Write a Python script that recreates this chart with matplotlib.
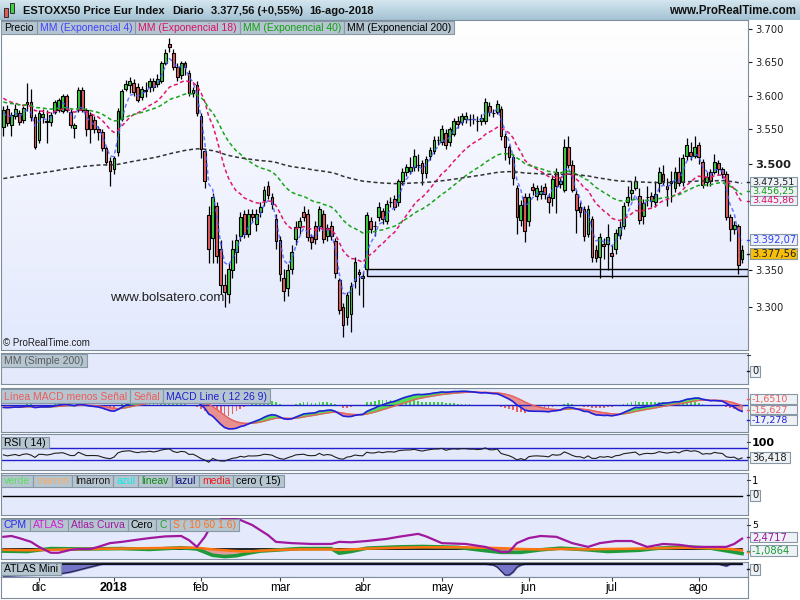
import numpy as np
import pandas as pd
import matplotlib
matplotlib.use("Agg")
import matplotlib.pyplot as plt
from matplotlib.patches import Rectangle
from matplotlib.lines import Line2D
from matplotlib.colors import LinearSegmentedColormap
from matplotlib.ticker import NullLocator

plt.rcParams['font.family'] = ['Liberation Sans', 'DejaVu Sans']

# ---------------- data ----------------
opens = [3554, 3580, 3557, 3570, 3574, 3564, 3590, 3590, 3569, 3535,
         3568, 3562, 3561, 3576, 3579, 3577, 3599, 3576, 3552, 3579,
         3608, 3579, 3571, 3564, 3551, 3547, 3523, 3504, 3492, 3517,
         3566, 3610, 3616, 3619, 3612, 3598, 3607, 3612, 3622, 3617,
         3622, 3649, 3677, 3664, 3642, 3630, 3648, 3634, 3604, 3615,
         3570, 3518, 3427, 3395, 3440, 3380, 3330, 3318, 3350, 3375,
         3397, 3428, 3401, 3428, 3414, 3432, 3449, 3469, 3452, 3421,
         3392, 3340, 3325, 3352, 3393, 3410, 3432, 3429, 3396, 3411,
         3411, 3429, 3397, 3411, 3390, 3336, 3300, 3286, 3290, 3335,
         3348, 3342, 3352, 3418, 3411, 3425, 3433, 3418, 3446, 3450,
         3446, 3475, 3488, 3490, 3495, 3498, 3501, 3487, 3511, 3519,
         3535, 3532, 3545, 3531, 3544, 3562, 3561, 3566, 3565, 3566,
         3562, 3562, 3563, 3584, 3574, 3576, 3580, 3541, 3524, 3510,
         3466, 3420, 3452, 3418, 3467, 3454, 3457, 3467, 3452, 3451,
         3489, 3471, 3463, 3524, 3499, 3457, 3438, 3435, 3401, 3421,
         3378, 3369, 3387, 3387, 3374, 3380, 3399, 3411, 3446, 3459,
         3466, 3454, 3426, 3453, 3454, 3446, 3472, 3485, 3469, 3472,
         3466, 3488, 3474, 3512, 3517, 3512, 3527, 3503, 3474, 3488,
         3489, 3501, 3492, 3485, 3424, 3408, 3411, 3365]
closes = [3579, 3560, 3571, 3580, 3561, 3581, 3587, 3568, 3525, 3574,
          3572, 3561, 3571, 3590, 3593, 3599, 3579, 3556, 3556, 3608,
          3579, 3550, 3550, 3551, 3547, 3523, 3503, 3490, 3509, 3577,
          3606, 3617, 3622, 3605, 3594, 3610, 3608, 3622, 3612, 3625,
          3649, 3664, 3673, 3642, 3628, 3648, 3642, 3604, 3608, 3574,
          3521, 3475, 3380, 3452, 3370, 3330, 3320, 3352, 3380, 3392,
          3425, 3401, 3429, 3425, 3428, 3438, 3463, 3456, 3442, 3390,
          3345, 3322, 3350, 3375, 3410, 3418, 3425, 3396, 3389, 3394,
          3436, 3394, 3409, 3397, 3346, 3296, 3276, 3316, 3328, 3361,
          3345, 3340, 3427, 3408, 3411, 3439, 3421, 3443, 3446, 3439,
          3475, 3488, 3495, 3496, 3512, 3498, 3487, 3507, 3520, 3535,
          3535, 3551, 3528, 3550, 3563, 3558, 3570, 3570, 3565, 3566,
          3562, 3567, 3591, 3575, 3574, 3588, 3541, 3525, 3510, 3480,
          3425, 3441, 3404, 3452, 3463, 3466, 3461, 3457, 3446, 3479,
          3468, 3476, 3524, 3499, 3463, 3434, 3432, 3398, 3435, 3369,
          3367, 3396, 3384, 3396, 3370, 3402, 3410, 3440, 3452, 3463,
          3475, 3420, 3444, 3453, 3447, 3457, 3488, 3475, 3464, 3475,
          3488, 3472, 3509, 3527, 3512, 3524, 3510, 3470, 3481, 3475,
          3503, 3492, 3486, 3424, 3408, 3413, 3357, 3377.56]
highs = [3584, 3586, 3576, 3588, 3578, 3585, 3619, 3610, 3572, 3578,
         3580, 3579, 3575, 3594, 3596, 3602, 3602, 3580, 3560, 3612,
         3612, 3582, 3575, 3570, 3555, 3550, 3526, 3510, 3512, 3581,
         3610, 3623, 3628, 3625, 3618, 3614, 3620, 3626, 3626, 3632,
         3652, 3670, 3686, 3670, 3648, 3652, 3652, 3638, 3612, 3622,
         3574, 3522, 3440, 3458, 3445, 3392, 3345, 3360, 3392, 3400,
         3432, 3434, 3435, 3436, 3436, 3446, 3468, 3475, 3458, 3428,
         3398, 3352, 3358, 3385, 3418, 3425, 3440, 3435, 3400, 3418,
         3440, 3434, 3415, 3418, 3395, 3340, 3305, 3320, 3334, 3368,
         3352, 3348, 3432, 3425, 3418, 3445, 3437, 3448, 3452, 3456,
         3478, 3494, 3500, 3510, 3522, 3515, 3506, 3512, 3525, 3540,
         3540, 3556, 3550, 3554, 3567, 3570, 3574, 3575, 3572, 3572,
         3570, 3572, 3597, 3590, 3580, 3594, 3585, 3545, 3528, 3515,
         3470, 3448, 3458, 3458, 3472, 3470, 3470, 3472, 3458, 3484,
         3494, 3481, 3536, 3540, 3506, 3462, 3445, 3440, 3441, 3426,
         3385, 3402, 3395, 3415, 3385, 3408, 3418, 3446, 3468, 3475,
         3482, 3466, 3450, 3468, 3460, 3475, 3496, 3498, 3480, 3490,
         3495, 3510, 3514, 3538, 3532, 3540, 3532, 3507, 3488, 3492,
         3515, 3505, 3496, 3490, 3428, 3418, 3415, 3385]
lows = [3541, 3555, 3540, 3566, 3556, 3560, 3577, 3563, 3521, 3530,
        3560, 3530, 3555, 3572, 3575, 3574, 3575, 3552, 3538, 3575,
        3575, 3540, 3530, 3545, 3535, 3519, 3498, 3468, 3486, 3512,
        3562, 3606, 3604, 3600, 3590, 3594, 3598, 3605, 3606, 3612,
        3618, 3645, 3665, 3638, 3622, 3625, 3630, 3600, 3598, 3570,
        3508, 3465, 3360, 3360, 3360, 3318, 3300, 3305, 3340, 3360,
        3390, 3395, 3396, 3418, 3405, 3424, 3440, 3450, 3436, 3380,
        3335, 3308, 3315, 3345, 3385, 3400, 3418, 3390, 3380, 3386,
        3405, 3388, 3390, 3392, 3340, 3290, 3259, 3275, 3266, 3325,
        3316, 3300, 3348, 3402, 3398, 3418, 3414, 3414, 3438, 3434,
        3440, 3470, 3482, 3486, 3490, 3490, 3470, 3480, 3505, 3515,
        3528, 3528, 3522, 3526, 3540, 3552, 3556, 3560, 3555, 3558,
        3548, 3556, 3558, 3570, 3568, 3572, 3535, 3505, 3500, 3470,
        3400, 3412, 3389, 3412, 3455, 3448, 3450, 3450, 3430, 3440,
        3430, 3466, 3460, 3494, 3460, 3402, 3425, 3390, 3396, 3362,
        3362, 3339, 3365, 3350, 3339, 3372, 3394, 3408, 3440, 3448,
        3462, 3414, 3415, 3440, 3438, 3438, 3460, 3470, 3440, 3445,
        3460, 3468, 3468, 3505, 3506, 3508, 3500, 3465, 3468, 3468,
        3485, 3486, 3480, 3420, 3390, 3400, 3345, 3360]

holidays = ['2017-12-25', '2017-12-26', '2018-01-01', '2018-03-30', '2018-04-02', '2018-05-01']
month_labels = ['dic', '2018', 'feb', 'mar', 'abr', 'may', 'jun', 'jul', 'ago']
price_ticks = [3300, 3350, 3500, 3550, 3600, 3650, 3700]
price_tick_labels = ['3.300', '3.350', '3.500', '3.550', '3.600', '3.650', '3.700']

# starting values of the averages (they come from history before the window)
ema_spans = [4, 18, 40, 200]
ema_seeds = [3572, 3598, 3591, 3478]
macd_seeds = [3572, 3580, -6]
rsi_seeds = [9.0, 10.0]
support_band = [3342, 3352]
support_start = 92

# ATLAS / C / S indicator lines (sampled)
atlas_idx = [0, 2, 4, 7, 9, 12, 14, 17, 19, 22, 24, 27, 30, 33, 37, 41, 45, 47, 49, 51,
             53, 56, 58, 60, 63, 67, 69, 73, 78, 83, 85, 88, 92, 97, 100, 105, 107, 111, 117, 122,
             126, 128, 130, 133, 136, 140, 144, 148, 151, 155, 159, 163, 167, 171, 175, 180, 183, 185, 187]
atlas_vals = [2.9, 3.1, 2.6, 1.7, 0.5, -0.9, -0.9, -0.2, 0.0, 0.0, 0.5, 1.4, 1.7, 2.1, 2.6, 3.0, 3.1, 2.1, 0.5, 2.9,
              6.2, 7.4, 7.4, 6.9, 5.7, 3.3, 1.7, 1.4, 1.2, 1.2, 1.7, 1.6, 1.9, 2.4, 2.9, 3.6, 3.0, 1.4, 1.2, 0.5,
              -0.7, -0.7, 1.4, 2.6, 3.1, 2.9, 1.4, 0.5, 1.4, 1.9, 1.9, 0.5, 1.2, 1.0, 0.5, 0.5, 0.5, 1.2, 2.47]
cs_idx = [0, 6, 12, 20, 30, 37, 45, 49, 53, 56, 59, 62, 65, 70, 75, 83, 85, 88, 92, 100,
          106, 115, 122, 126, 131, 136, 141, 148, 153, 161, 166, 173, 179, 184, 187]
c_vals = [-0.5, -0.6, 0.1, 0.0, 0.1, -0.1, 0.3, 0.0, -1.5, -1.8, -1.6, -1.0, -0.5, -0.2, 0.1, 0.1, -1.0, -0.6, 0.2, 0.5,
          0.6, 0.4, -0.4, -0.8, -0.8, -0.2, 0.2, -0.2, -0.6, -0.3, 0.2, 0.5, 0.2, -0.6, -1.09]
s_vals = [-0.2, -0.3, -0.2, 0.0, 0.1, 0.2, 0.3, 0.3, -0.1, -0.3, -0.5, -0.6, -0.4, -0.2, -0.1, -0.1, -0.2, -0.1, 0.1, 0.3,
          0.4, 0.4, 0.3, 0.2, 0.0, -0.1, 0.0, -0.1, 0.0, 0.1, 0.2, 0.3, 0.2, 0.0, -0.3]
mini_idx = [0, 14, 17, 19, 21, 23, 25, 122, 124, 125, 126, 127, 128, 129, 130, 131, 132, 181, 182, 183, 184, 187]
mini_vals = [-12, -10, -8, -6, -4, -2, 0, 0, -1, -3, -7, -11, -11, -8, -3, -1, 0, 0, -1, -2, 0, 0]

W, H = 800, 600
XMIN, XMAX = -0.6, 188.5
PANEL_BG = '#e4eafb'
EDGE = '#7d8d9b'
NUMFONT = ['DejaVu Sans']


def ema(values, span, seed):
    a = 2.0 / (span + 1)
    out, prev = [], seed
    for v in values:
        prev = prev + a * (v - prev)
        out.append(prev)
    return np.array(out)


def rsi(values, period, seed_gain, seed_loss):
    g, l = seed_gain, seed_loss
    out, prev = [], values[0]
    for v in values:
        d = v - prev
        g = (g * (period - 1) + max(d, 0)) / period
        l = (l * (period - 1) + max(-d, 0)) / period
        out.append(100 - 100 / (1 + g / l))
        prev = v
    return np.array(out)


fig = plt.figure(figsize=(8, 6), dpi=100, facecolor='white')


def px_axes(x0, y0, x1, y1):
    return fig.add_axes([x0 / W, 1 - y1 / H, (x1 - x0) / W, (y1 - y0) / H])


def fig_rect(x0, y0, x1, y1, **kw):
    fig.add_artist(Rectangle((x0 / W, 1 - y1 / H), (x1 - x0) / W, (y1 - y0) / H,
                             transform=fig.transFigure, **kw))


def fig_text(x, y, s, **kw):
    return fig.text(x / W, 1 - y / H, s, **kw)


def panel(y0, y1):
    a = px_axes(1, y0, 748, y1)
    a.set_facecolor(PANEL_BG)
    a.set_xlim(XMIN, XMAX)
    a.set_xticks([])
    a.set_yticks([])
    for s in a.spines.values():
        s.set_color(EDGE)
    return a


def legend_row(y0, y1, items, x0=1):
    renderer = fig.canvas.get_renderer()
    x = x0
    for label, color in items:
        t = fig_text(x + 3, (y0 + y1) / 2 + 0.5, label, color=color, fontsize=7.5,
                     va='center', ha='left', zorder=31)
        w = t.get_window_extent(renderer).width + 6
        fig_rect(x, y0, x + w, y1, fc='#b5c6d1', ec='#8797a5', lw=0.8, zorder=30)
        x += w


def value_box(y, text, color, x1=797, fc='#eef2f6', h=11, tick=True, size=7.2):
    renderer = fig.canvas.get_renderer()
    t = fig_text(752, y + 0.5, text, color=color, fontsize=size, va='center', ha='left',
                 family=NUMFONT, zorder=41)
    if x1 is None:
        x1 = 752 + t.get_window_extent(renderer).width + 3
    fig_rect(750, y - h / 2, x1, y + h / 2, fc=fc, ec='#8797a5', lw=0.8, zorder=40)
    if tick:
        fig.add_artist(Line2D([747 / W, 750 / W], [1 - y / H] * 2, color=color, lw=1,
                              transform=fig.transFigure))


def plain_label(y, text, color='black', size=7.2, weight='normal'):
    fig_text(752, y + 0.5, text, color=color, fontsize=size, va='center', ha='left',
             family=NUMFONT, weight=weight)
    fig.add_artist(Line2D([747 / W, 750 / W], [1 - y / H] * 2, color='#404040', lw=0.8,
                          transform=fig.transFigure))


o = np.array(opens, dtype=float)
c = np.array(closes, dtype=float)
hi = np.array(highs, dtype=float)
lo = np.array(lows, dtype=float)
n = len(c)
x = np.arange(n)
dates = pd.bdate_range('2017-11-20', '2018-08-16', freq='C', holidays=holidays)
month_pos = [i for i in range(1, n) if dates[i].month != dates[i - 1].month]

# ---------------- header ----------------
grad = np.linspace(0, 1, 64).reshape(-1, 1)
hd = px_axes(0, 0, 800, 20)
hd.imshow(grad, aspect='auto', extent=[0, 1, 0, 1],
          cmap=LinearSegmentedColormap.from_list('h', ['#d4e6ef', '#a4c2d3']))
hd.set_xlim(0, 1)
hd.set_ylim(0, 1)
hd.axis('off')
fig_rect(4, 8, 8, 17, fc='#e05a5a', ec='#303030', lw=0.7, zorder=5)
fig_rect(10, 3, 14, 13, fc='#3fcf3f', ec='#303030', lw=0.7, zorder=5)
for seg_x, seg in [(23, 'ESTOXX50 Price Eur Index'), (172, 'Diario'),
                   (211, '3.377,56 (+0,55%)'), (309, '16-ago-2018')]:
    fig_text(seg_x, 11, seg, fontsize=8, weight='bold', va='center', ha='left', color='#101010')
fig_text(796, 11, 'www.ProRealTime.com', fontsize=8.3, weight='bold', va='center', ha='right',
         color='#101010')

# ---------------- main price panel ----------------
bg = px_axes(1, 20, 748, 350)
bg.imshow(grad, aspect='auto', extent=[0, 1, 0, 1],
          cmap=LinearSegmentedColormap.from_list('b', ['#ffffff', '#e3e9fd']))
bg.set_xlim(0, 1)
bg.set_ylim(0, 1)
bg.axis('off')

ax = px_axes(1, 20, 748, 350)
ax.set_facecolor('none')
ax.set_yscale('log')
ax.set_xlim(XMIN, XMAX)
ax.set_ylim(3241.8, 3713.7)
ax.set_xticks([])
for s in ax.spines.values():
    s.set_color(EDGE)
ax.yaxis.tick_right()
ax.set_yticks(price_ticks)
ax.set_yticklabels(price_tick_labels)
ax.yaxis.set_minor_locator(NullLocator())
ax.tick_params(axis='y', length=3, width=0.8, pad=2, labelsize=7.2, colors='#202020')
for lab in ax.get_yticklabels():
    lab.set_family(NUMFONT)
    if lab.get_text() == '3.500':
        lab.set_fontweight('bold')
        lab.set_fontsize(8.2)

ax.add_patch(Rectangle((support_start, support_band[0]), XMAX - support_start,
                       support_band[1] - support_band[0], fc='#dae3ff', ec='black', lw=1, zorder=2))

body_col = np.where(c >= o, '#3fcf3f', '#e25f5f')
ax.vlines(x, lo, hi, color='black', lw=0.9, zorder=3)
ax.bar(x, np.abs(c - o), bottom=np.minimum(o, c), width=0.7, color=body_col,
       edgecolor='black', linewidth=0.8, zorder=4)

ema_styles = [('#4a5cff', 0.8), ('#e0186e', 1.0), ('#1aa51a', 1.0), ('#333333', 1.0)]
for span, seed, (col, alp) in zip(ema_spans, ema_seeds, ema_styles):
    ax.plot(x, ema(c, span, seed), color=col, alpha=alp, lw=1.1, ls=(0, (2.6, 1.8)), zorder=5)

fig_text(110, 298, 'www.bolsatero.com', fontsize=9.5, color='#202020', va='center', ha='left')
fig_text(3, 343, '\u00a9 ProRealTime.com', fontsize=7, color='#202020', va='center', ha='left')
legend_row(21, 34, [('Precio', 'black'), ('MM (Exponencial 4)', '#4040ff'),
                    ('MM (Exponencial 18)', '#d8106a'), ('MM (Exponencial 40)', '#10a010'),
                    ('MM (Exponencial 200)', 'black')])

# stacked last-value boxes (they overlap slightly, as in the original)
value_box(191, '3.456,25', '#10a010', h=9.5, size=6.8)
value_box(181.5, '3.473,51', '#202020', h=9.5, size=6.8)
value_box(200.5, '3.445,86', '#d8106a', h=9.5, size=6.8)
value_box(239.5, '3.392,07', '#3040ff')
value_box(253.5, '3.377,56', '#202020', fc='#f7bf0a')

# ---------------- MM (Simple 200) panel ----------------
mm = panel(353, 384)
legend_row(354, 367, [('MM (Simple 200)', '#5a5a5a')])
plain_label(355, '')
value_box(371, '0', '#202020', x1=760)

# ---------------- MACD panel ----------------
mp = panel(388, 432)
e12 = ema(c, 12, macd_seeds[0])
e26 = ema(c, 26, macd_seeds[1])
macd = e12 - e26
signal = ema(macd, 9, macd_seeds[2])
hist = macd - signal
mp.set_ylim(-75, 47)
mp.bar(x, hist, width=0.45, color=np.where(hist >= 0, '#3fd03f', '#e86060'), zorder=2)
mp.fill_between(x, macd, signal, where=macd >= signal, interpolate=True, color='#56dd56', zorder=3)
mp.fill_between(x, macd, signal, where=macd < signal, interpolate=True, color='#e89090', zorder=3)
mp.axhline(0, color='#2020c8', lw=1, zorder=4)
mp.plot(x, signal, color='#e86060', lw=1, zorder=5)
mp.plot(x, macd, color='#2020e0', lw=1.2, zorder=6)
legend_row(389, 403, [('L\u00ednea MACD menos Se\u00f1al', '#ee5c5c'), ('Se\u00f1al', '#ee5c5c'),
                      ('MACD Line ( 12 26 9)', '#2020d0')])
value_box(409.5, '-15,627', '#e86060', h=9.5, size=6.8)
value_box(399, '-1,6510', '#e86060', h=9.5, size=6.8)
value_box(420, '-17,278', '#2020e0', h=9.5, size=6.8)

# ---------------- RSI panel ----------------
rp = panel(434, 470)
rp.set_ylim(-3.3, 116.7)
rp.axhline(70, color='#2020d0', lw=1)
rp.axhline(30, color='#2020d0', lw=1)
rp.plot(x, rsi(c, 14, rsi_seeds[0], rsi_seeds[1]), color='#202020', lw=0.8)
legend_row(437, 448, [('RSI ( 14)', 'black')])
plain_label(442, '100', size=8, weight='bold')
value_box(457, '36,418', '#202020', x1=None)

# ---------------- verde / marron panel ----------------
vp = panel(473, 515)
vp.set_ylim(-1.19, 1.44)
vp.plot(x, np.zeros(n), color='black', lw=1)
legend_row(475, 487, [('verde', '#58e058'), ('marron', '#f7ad6a'), ('lmarron', '#201818'),
                      ('azul', '#10eaea'), ('lineav', '#128a12'), ('lazul', '#101080'),
                      ('media', '#f01818'), ('cero ( 15)', 'black')])
plain_label(480, '1')
value_box(495, '0', '#202020', x1=760)

# ---------------- CPM / ATLAS panel ----------------
cp = panel(518, 559)
cp.set_ylim(-2.38, 7.38)
cp.plot(x, np.zeros(n), color='black', lw=1.2, zorder=2)
cp.fill_between(cs_idx, c_vals, s_vals, where=np.array(c_vals) < np.array(s_vals),
                interpolate=True, color='#e08a8a', alpha=0.8, zorder=3)
cp.plot(cs_idx, c_vals, color='#1f9a3a', lw=2.6, zorder=4)
cp.plot(cs_idx, s_vals, color='#ff7410', lw=1.8, zorder=5)
cp.plot(atlas_idx, atlas_vals, color='#a0189e', lw=1.6, zorder=6)
legend_row(519, 531, [('CPM', '#2828f0'), ('ATLAS', '#d020d0'), ('Atlas Curva', '#a01aa0'),
                      ('Cero', 'black'), ('C', '#20a030'), ('S ( 10 60 1.6)', '#ff7020')])
plain_label(524.5, '5', size=6.8)
value_box(537, '2,4717', '#a0189e', h=10)
value_box(550.5, '-1,0864', '#1f9a3a')
fig.add_artist(Line2D([747 / W, 750 / W], [1 - 552 / H] * 2, color='#ff7410', lw=1,
                      transform=fig.transFigure))

# ---------------- ATLAS Mini panel ----------------
ap = panel(562, 577)
ap.set_ylim(-13, 2)
ap.fill_between(mini_idx, mini_vals, 0, color='#7474c8', zorder=2)
ap.plot(mini_idx, mini_vals, color='#202040', lw=0.8, zorder=3)
ap.plot(x, np.zeros(n), color='black', lw=1.1, zorder=4)
legend_row(563, 575, [('ATLAS Mini', 'black')])
value_box(569, '0', '#202020', x1=760)

# ---------------- date strip ----------------
dp = px_axes(1, 577, 748, 598)
dp.set_facecolor('white')
dp.set_xlim(XMIN, XMAX)
dp.set_ylim(0, 1)
dp.set_yticks([])
for s in dp.spines.values():
    s.set_color(EDGE)
dp.set_xticks(month_pos)
dp.set_xticklabels([])
dp.tick_params(axis='x', direction='in', top=True, bottom=False, length=3, color='#404040')
for pos, lab in zip(month_pos, month_labels):
    if lab == '2018':
        dp.text(pos, 0.48, lab, fontsize=9, weight='bold', ha='center', va='center')
    else:
        dp.text(pos, 0.48, lab, fontsize=8.5, ha='center', va='center')

fig.savefig('out.png', dpi=100, facecolor='white')
